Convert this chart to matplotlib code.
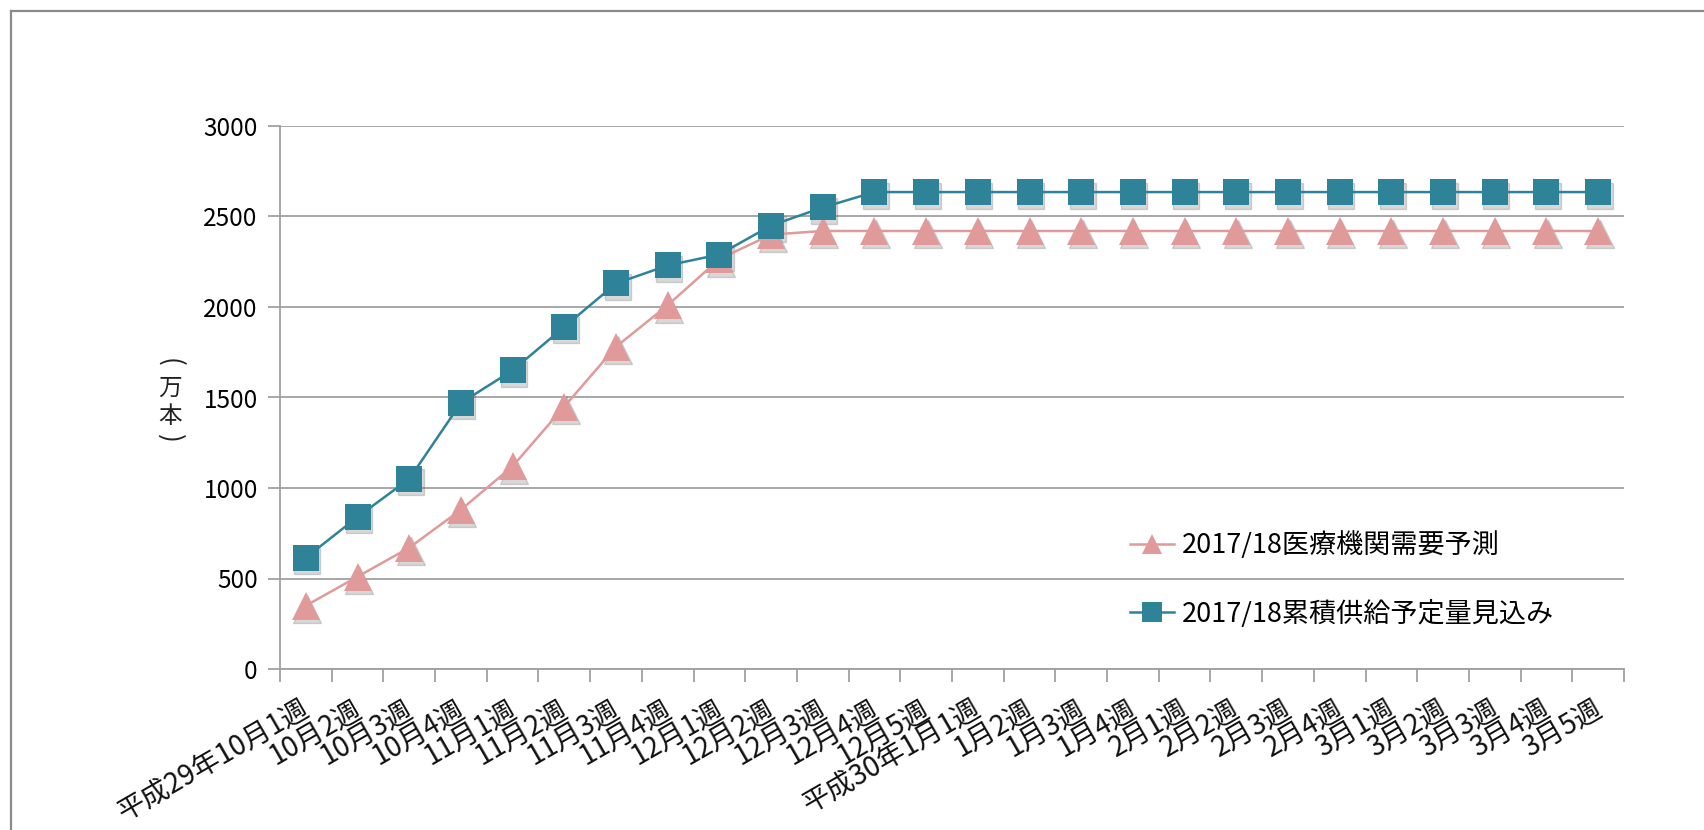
import numpy as np
import matplotlib as mpl
mpl.use('Agg')
import matplotlib.pyplot as plt
from matplotlib.lines import Line2D
from matplotlib.transforms import offset_copy, ScaledTranslation

plt.rcParams['font.family'] = ['Noto Sans CJK JP', 'DejaVu Sans']

# 週のラベル
weeks = ['平成29年10月1週', '10月2週', '10月3週', '10月4週',
         '11月1週', '11月2週', '11月3週', '11月4週',
         '12月1週', '12月2週', '12月3週', '12月4週', '12月5週',
         '平成30年1月1週', '1月2週', '1月3週', '1月4週',
         '2月1週', '2月2週', '2月3週', '2月4週',
         '3月1週', '3月2週', '3月3週', '3月4週', '3月5週']

# 医療機関需要予測（万本）
demand = [350, 510, 670, 880, 1120, 1450, 1780, 2010, 2265, 2400, 2420,
          2420, 2420, 2420, 2420, 2420, 2420, 2420, 2420, 2420, 2420,
          2420, 2420, 2420, 2420, 2420]
# 累積供給予定量見込み（万本）
supply = [615, 840, 1050, 1470, 1650, 1890, 2130, 2230, 2290, 2450, 2550,
          2635, 2635, 2635, 2635, 2635, 2635, 2635, 2635, 2635, 2635,
          2635, 2635, 2635, 2635, 2635]

label_demand = '2017/18医療機関需要予測'
label_supply = '2017/18累積供給予定量見込み'

PINK = '#E09A9A'
BLUE = '#2E8399'
GRID = '#A0A0A0'

fig = plt.figure(figsize=(17.04, 8.30), dpi=100)
ax = fig.add_axes([280 / 1704, 1 - 669 / 830, (1624 - 280) / 1704, (669 - 126) / 830])

x = np.arange(len(weeks))

# 影（マーカーだけ少しずらして描く）
shadow = offset_copy(ax.transData, fig=fig, x=1.5, y=-3.5, units='dots')
ax.plot(x, demand, linestyle='none', marker='^', markersize=20, color='#666666',
        alpha=0.25, transform=shadow, zorder=2)
ax.plot(x, supply, linestyle='none', marker='s', markersize=19, color='#666666',
        alpha=0.25, transform=shadow, zorder=2)

ax.plot(x, demand, color=PINK, lw=1.8, marker='^', markersize=20,
        markeredgewidth=0, zorder=3, label=label_demand)
ax.plot(x, supply, color=BLUE, lw=1.8, marker='s', markersize=19,
        markeredgewidth=0, zorder=4, label=label_supply)

ax.set_xlim(-0.5, len(weeks) - 0.5)
ax.set_ylim(0, 3000)
ax.set_yticks(np.arange(0, 3001, 500))
ax.yaxis.grid(True, color=GRID, lw=1.3)
ax.set_axisbelow(True)

# カテゴリ軸: 目盛りは境界、ラベルは中央
ax.set_xticks(np.arange(-0.5, len(weeks), 1.0))
ax.set_xticklabels([])
ax.tick_params(axis='x', which='major', length=9, width=1.3, color=GRID)
ax.tick_params(axis='y', length=9, width=1.3, color=GRID, labelsize=17.5, pad=7)

lab_trans = ax.get_xaxis_transform() + ScaledTranslation(-6 / 100, -25 / 100, fig.dpi_scale_trans)
for i, w in enumerate(weeks):
    ax.text(i, 0, w, transform=lab_trans, rotation=30, ha='right', va='top',
            rotation_mode='anchor', fontsize=20, color='#111111', clip_on=False)

for s in ['top', 'right']:
    ax.spines[s].set_visible(False)
ax.spines['left'].set_color(GRID)
ax.spines['left'].set_linewidth(1.3)
ax.spines['bottom'].set_color(GRID)
ax.spines['bottom'].set_linewidth(1.3)

# 縦書きの単位
ylab_x = 170 / 1704
fig.text(ylab_x, 1 - 362 / 830, '(', fontsize=19, rotation=-90,
         ha='center', va='center', color='#222222')
fig.text(ylab_x, 1 - 388 / 830, '万', fontsize=17, ha='center', va='center', color='#222222')
fig.text(ylab_x, 1 - 416 / 830, '本', fontsize=17, ha='center', va='center', color='#222222')
fig.text(ylab_x, 1 - 438 / 830, ')', fontsize=19, rotation=-90,
         ha='center', va='center', color='#222222')

leg = ax.legend(loc='upper left', bbox_to_anchor=((1106 - 280) / (1624 - 280), (669 - 507) / (669 - 126)),
                frameon=False, fontsize=19.5, handlelength=1.6, labelspacing=1.5,
                handletextpad=0.3)
for h in leg.legend_handles:
    h.set_markersize(14)

# 外枠
fig.add_artist(Line2D([11 / 1704, 1.0], [1 - 11 / 830, 1 - 11 / 830],
                      transform=fig.transFigure, color='#8A8A8A', lw=1.6))
fig.add_artist(Line2D([11 / 1704, 11 / 1704], [0, 1 - 11 / 830],
                      transform=fig.transFigure, color='#8A8A8A', lw=1.6))

fig.savefig('out.png', dpi=100)
